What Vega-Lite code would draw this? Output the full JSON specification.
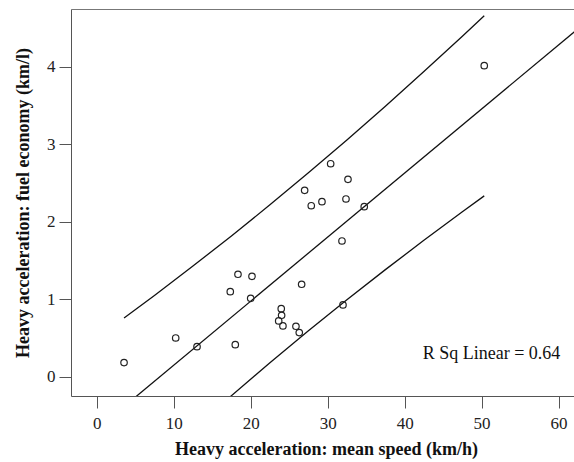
{
  "$schema": "https://vega.github.io/schema/vega-lite/v6.json",
  "width": 503,
  "height": 387,
  "autosize": {"type": "none"},
  "padding": {"left": 71, "top": 9, "right": 0, "bottom": 66},
  "background": "white",
  "config": {"view": {"stroke": null}, "font": "Liberation Serif"},
  "datasets": {
    "points": [
      {"speed": 3.55, "economy": 0.181},
      {"speed": 10.26, "economy": 0.499},
      {"speed": 13.03, "economy": 0.387},
      {"speed": 17.35, "economy": 1.097},
      {"speed": 18.35, "economy": 1.321},
      {"speed": 18.0, "economy": 0.413},
      {"speed": 20.17, "economy": 1.295},
      {"speed": 20.0, "economy": 1.011},
      {"speed": 23.97, "economy": 0.877},
      {"speed": 24.02, "economy": 0.792},
      {"speed": 23.64, "economy": 0.719},
      {"speed": 24.19, "economy": 0.654},
      {"speed": 25.88, "economy": 0.65},
      {"speed": 26.31, "economy": 0.568},
      {"speed": 26.62, "economy": 1.192},
      {"speed": 27.01, "economy": 2.405},
      {"speed": 27.87, "economy": 2.206},
      {"speed": 29.26, "economy": 2.258},
      {"speed": 30.39, "economy": 2.748},
      {"speed": 32.64, "economy": 2.547},
      {"speed": 32.38, "economy": 2.293},
      {"speed": 34.75, "economy": 2.194},
      {"speed": 31.86, "economy": 1.751},
      {"speed": 31.99, "economy": 0.925},
      {"speed": 50.34, "economy": 4.013}
    ],
    "fit": [
      {"speed": 0, "economy": -0.68},
      {"speed": 63, "economy": 4.53}
    ],
    "bands": [
      {"band": "upper", "speed": 3.55, "economy": 0.756},
      {"band": "upper", "speed": 7.5, "economy": 1.048},
      {"band": "upper", "speed": 12.5, "economy": 1.427},
      {"band": "upper", "speed": 17.5, "economy": 1.816},
      {"band": "upper", "speed": 22.5, "economy": 2.217},
      {"band": "upper", "speed": 27.5, "economy": 2.63},
      {"band": "upper", "speed": 32.5, "economy": 3.054},
      {"band": "upper", "speed": 37.5, "economy": 3.491},
      {"band": "upper", "speed": 42.5, "economy": 3.937},
      {"band": "upper", "speed": 47.5, "economy": 4.394},
      {"band": "upper", "speed": 50.34, "economy": 4.657},
      {"band": "lower", "speed": 12.5, "economy": -0.682},
      {"band": "lower", "speed": 17.5, "economy": -0.246},
      {"band": "lower", "speed": 22.5, "economy": 0.178},
      {"band": "lower", "speed": 27.5, "economy": 0.591},
      {"band": "lower", "speed": 32.5, "economy": 0.992},
      {"band": "lower", "speed": 37.5, "economy": 1.381},
      {"band": "lower", "speed": 42.5, "economy": 1.759},
      {"band": "lower", "speed": 47.5, "economy": 2.127},
      {"band": "lower", "speed": 50.34, "economy": 2.333}
    ]
  },
  "layer": [
    {
      "data": {"name": "fit"},
      "mark": {"type": "line", "clip": true, "color": "#111", "strokeWidth": 1.3},
      "encoding": {
        "x": {"field": "speed", "type": "quantitative",
          "scale": {"domain": [-3.34, 62.0], "nice": false, "zero": false},
          "axis": {"orient": "top", "labels": false, "ticks": false, "title": null, "grid": false, "domainColor": "#777", "domainWidth": 1}},
        "y": {"field": "economy", "type": "quantitative",
          "scale": {"domain": [-0.25, 4.745], "nice": false, "zero": false},
          "axis": {"values": [0, 1, 2, 3, 4], "format": "d", "grid": false, "domainColor": "#555", "tickColor": "#555", "tickSize": 12,
            "labelFont": "Liberation Serif", "labelFontSize": 17, "labelColor": "#222", "labelPadding": 4,
            "title": "Heavy acceleration: fuel economy (km/l)", "titleFont": "Liberation Serif", "titleFontSize": 18,
            "titleFontWeight": "bold", "titleColor": "#111", "titleX": -43, "titleY": 193.5, "titleBaseline": "alphabetic", "titleAlign": "center", "titleAngle": -90}}
      }
    },
    {
      "data": {"name": "bands"},
      "mark": {"type": "line", "clip": true, "color": "#111", "strokeWidth": 1.3},
      "encoding": {
        "x": {"field": "speed", "type": "quantitative",
          "axis": {"values": [0, 10, 20, 30, 40, 50, 60], "format": "d", "grid": false, "domainColor": "#555", "tickColor": "#555", "tickSize": 12,
            "labelFont": "Liberation Serif", "labelFontSize": 17, "labelColor": "#222", "labelPadding": 7,
            "title": "Heavy acceleration: mean speed (km/h)", "titleFont": "Liberation Serif", "titleFontSize": 18,
            "titleFontWeight": "bold", "titleColor": "#111", "titleX": 255, "titleY": 58, "titleBaseline": "alphabetic", "titleAlign": "center"}},
        "y": {"field": "economy", "type": "quantitative"},
        "detail": {"field": "band", "type": "nominal"}
      }
    },
    {
      "data": {"name": "points"},
      "mark": {"type": "point", "shape": "circle", "filled": false, "size": 42, "stroke": "#222", "strokeWidth": 1.2, "opacity": 1},
      "encoding": {
        "x": {"field": "speed", "type": "quantitative", "axis": null},
        "y": {"field": "economy", "type": "quantitative"}
      }
    },
    {
      "data": {"values": [{}]},
      "mark": {"type": "text", "align": "left", "baseline": "alphabetic", "font": "Liberation Serif", "fontSize": 18, "color": "#111"},
      "encoding": {
        "x": {"datum": 42.34, "type": "quantitative", "axis": null},
        "y": {"datum": 0.2245, "type": "quantitative"},
        "text": {"value": "R Sq Linear = 0.64"}
      }
    }
  ],
  "resolve": {"axis": {"x": "independent"}}
}
